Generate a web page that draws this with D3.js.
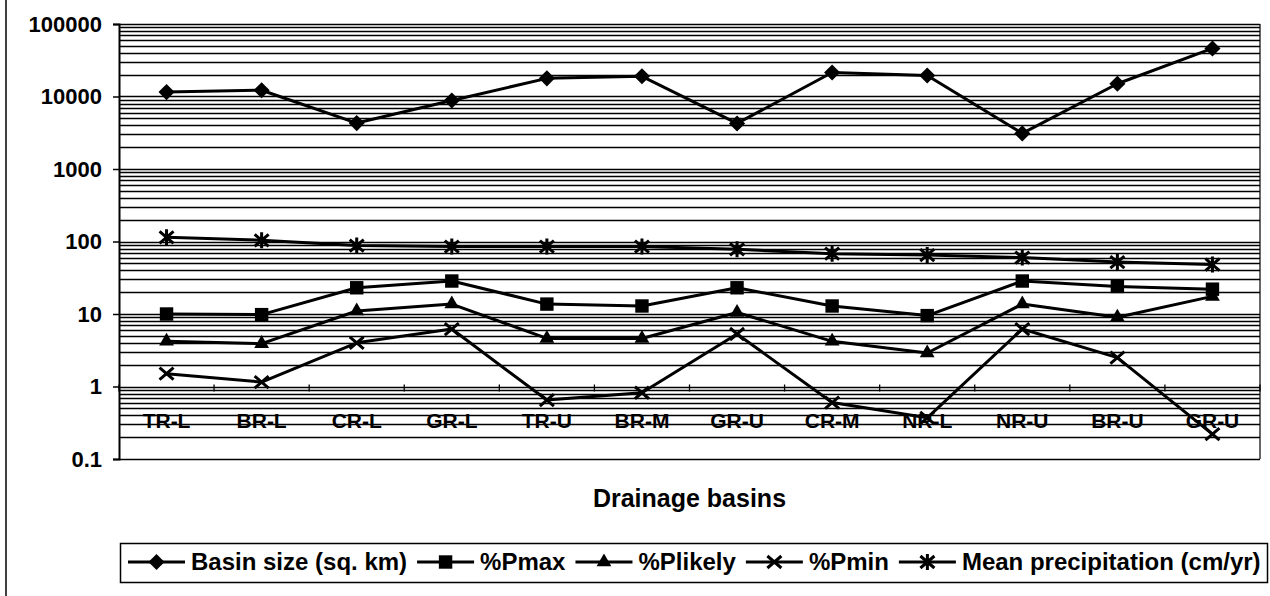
<!DOCTYPE html>
<html>
<head>
<meta charset="utf-8">
<script src="https://cdn.jsdelivr.net/npm/d3@7"></script>
<style>
  html, body { margin: 0; padding: 0; background: #fff; }
  svg { display: block; font-family: "Liberation Sans", Arial, sans-serif; }
</style>
</head>
<body>
<svg id="chart" width="1270" height="596"></svg>
<script>
// ---- data ----
const categories = ["TR-L","BR-L","CR-L","GR-L","TR-U","BR-M","GR-U","CR-M","NR-L","NR-U","BR-U","GR-U"];
const basinSize   = [11500, 12200, 4300, 8800, 17800, 19000, 4250, 21400, 19500, 3100, 15000, 46000];
const pMax        = [10, 9.8, 23, 28.5, 13.7, 12.9, 23, 12.9, 9.5, 28.5, 24, 22];
const pLikely     = [4.2, 3.9, 11, 13.7, 4.6, 4.6, 10.5, 4.2, 2.9, 13.7, 9, 17.5];
const pMin        = [1.5, 1.15, 4.0, 6.2, 0.65, 0.82, 5.3, 0.6, 0.37, 6.2, 2.5, 0.22];
const meanPrecip  = [114, 104, 88, 85, 85, 85, 78, 68, 65, 60, 52, 48];
const seriesNames = ["Basin size (sq. km)", "%Pmax", "%Plikely", "%Pmin", "Mean precipitation (cm/yr)"];
const yTickValues = [0.1, 1, 10, 100, 1000, 10000, 100000];
const xTitle = "Drainage basins";

const seriesValues = [basinSize, pMax, pLikely, pMin, meanPrecip];
const markerTypes = ["diamond", "square", "triangle", "x", "star"];

// ---- layout ----
const svg = d3.select("#chart");
const L = 119, R = 1260, T = 24, B = 459;
const FONT = "'Liberation Sans', Arial, sans-serif";

const x = d3.scaleBand().domain(d3.range(categories.length)).range([L, R]);
const y = d3.scaleLog().domain([0.1, 100000]).range([B, T]);

// outer left border of the chart area
svg.append("line").attr("x1", 6).attr("x2", 6).attr("y1", 0).attr("y2", 596)
  .attr("stroke", "#000").attr("stroke-width", 1.5);

// gridlines (major + minor)
const grid = svg.append("g");
grid.selectAll("line").data(y.ticks()).join("line")
  .attr("x1", L).attr("x2", R)
  .attr("y1", d => Math.round(y(d)) + 0.5).attr("y2", d => Math.round(y(d)) + 0.5)
  .attr("stroke", "#000").attr("stroke-width", 1.7);

// plot right border
svg.append("line").attr("x1", R).attr("x2", R).attr("y1", T).attr("y2", B)
  .attr("stroke", "#000").attr("stroke-width", 1.2);

// y axis
const yAxis = svg.append("g").attr("transform", `translate(${L},0)`)
  .call(d3.axisLeft(y).tickValues(yTickValues).tickFormat(d3.format("~g")).tickSize(6).tickPadding(11));
yAxis.select(".domain").attr("stroke", "#000").attr("stroke-width", 2);
yAxis.selectAll(".tick line").attr("stroke", "#000").attr("stroke-width", 1.5);
yAxis.selectAll(".tick text").attr("fill", "#000")
  .style("font-family", FONT).style("font-size", "22px").style("font-weight", "bold");

// category axis crossing at 1
const y1 = y(1);
const xAxis = svg.append("g").attr("transform", `translate(0,${y1})`)
  .call(d3.axisBottom(x).tickFormat(i => categories[i]).tickSize(0).tickPadding(0));
xAxis.select(".domain").remove();
xAxis.selectAll(".tick text").attr("fill", "#000").attr("dy", 0).attr("y", 41)
  .style("font-family", FONT).style("font-size", "21px").style("font-weight", "bold");
// tick marks between categories
const boundaries = d3.range(categories.length + 1).map(i => i < categories.length ? x(i) : x(categories.length - 1) + x.bandwidth());
svg.append("g").selectAll("line").data(boundaries).join("line")
  .attr("x1", d => d).attr("x2", d => d).attr("y1", y1 - 2).attr("y2", y1 + 5)
  .attr("stroke", "#000").attr("stroke-width", 1.3);

// x title
svg.append("text").attr("x", (L + R) / 2).attr("y", 507).attr("text-anchor", "middle")
  .style("font-family", FONT).style("font-size", "25px").style("font-weight", "bold").text(xTitle);

// markers
function drawMarker(g, type) {
  if (type === "diamond") {
    g.append("path").attr("d", d3.symbol(d3.symbolSquare, 130)()).attr("transform", "rotate(45)").attr("fill", "#000");
  } else if (type === "square") {
    g.append("path").attr("d", d3.symbol(d3.symbolSquare, 180)()).attr("fill", "#000");
  } else if (type === "triangle") {
    g.append("path").attr("d", d3.symbol(d3.symbolTriangle, 95)()).attr("fill", "#000");
  } else if (type === "x") {
    g.append("path").attr("d", "M-7,-6L7,6M-7,6L7,-6").attr("stroke", "#000").attr("stroke-width", 3).attr("fill", "none");
  } else if (type === "star") {
    g.append("path").attr("d", "M-7,-6L7,6M-7,6L7,-6M0,-8L0,8").attr("stroke", "#000").attr("stroke-width", 3).attr("fill", "none");
  }
}

const cx = i => x(i) + x.bandwidth() / 2;
const line = d3.line().x((d, i) => cx(i)).y(d => y(d));

seriesValues.forEach((vals, s) => {
  const g = svg.append("g");
  g.append("path").datum(vals).attr("d", line)
    .attr("fill", "none").attr("stroke", "#000").attr("stroke-width", 3).attr("stroke-linejoin", "round");
  vals.forEach((v, i) => {
    const m = g.append("g").attr("transform", `translate(${cx(i)},${y(v)})`);
    drawMarker(m, markerTypes[s]);
  });
});

// legend
const lg = svg.append("g");
lg.append("rect").attr("x", 120.5).attr("y", 543.5).attr("width", 1147).attr("height", 39)
  .attr("fill", "#fff").attr("stroke", "#000").attr("stroke-width", 1.5);
let lx = 128;
const ly = 562;
seriesNames.forEach((name, s) => {
  lg.append("line").attr("x1", lx).attr("x2", lx + 57).attr("y1", ly).attr("y2", ly)
    .attr("stroke", "#000").attr("stroke-width", 3);
  const m = lg.append("g").attr("transform", `translate(${lx + 28.5},${ly})`);
  drawMarker(m, markerTypes[s]);
  lx += 57 + 6;
  const t = lg.append("text").attr("x", lx).attr("y", 570)
    .style("font-family", FONT).style("font-size", "24px").style("font-weight", "bold").text(name);
  lx += t.node().getComputedTextLength() + 10;
});
</script>
</body>
</html>
